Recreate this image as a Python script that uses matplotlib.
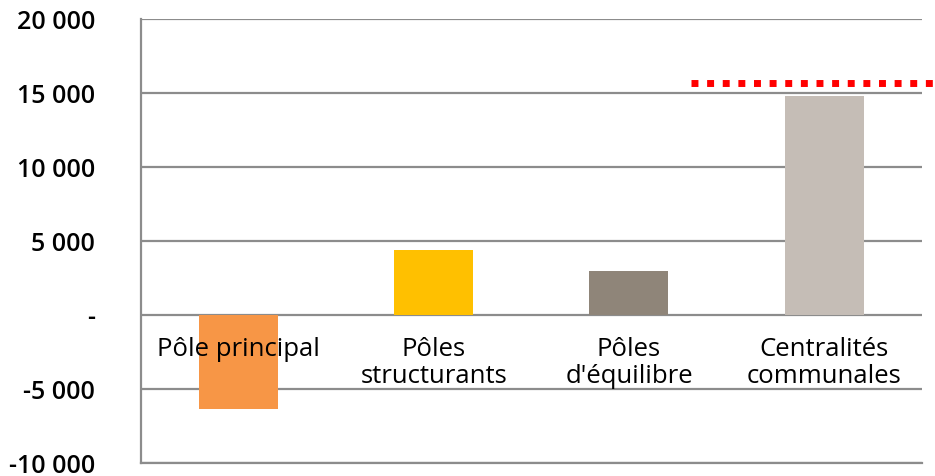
import matplotlib
matplotlib.use('Agg')
import matplotlib.pyplot as plt

plt.rcParams['font.family'] = ['Open Sans', 'DejaVu Sans']

# values
categories = ['Pôle principal', 'Pôles\nstructurants', "Pôles\nd'équilibre", 'Centralités\ncommunales']
values = [-6350, 4430, 2950, 14800]
colors = ['#F79646', '#FFC000', '#8F8579', '#C5BDB6']
target = 15700
target_start = 2.32

yticks = [-10000, -5000, 0, 5000, 10000, 15000, 20000]
ylabels = ['-10 000', '-5 000', '-', '5 000', '10 000', '15 000', '20 000']

fig = plt.figure(figsize=(9.35, 4.76), dpi=100)
ax = fig.add_axes([0.1508, 0.027, 0.835, 0.933])

xs = list(range(len(categories)))
ax.bar(xs, values, width=0.405, color=colors, zorder=3)

ax.set_xlim(-0.5, len(categories) - 0.5)
ax.set_ylim(-10000, 20000)
ax.set_yticks(yticks)
ax.set_yticklabels(ylabels, fontsize=18, fontweight='semibold')
ax.tick_params(axis='y', length=0, pad=33)
ax.set_xticks([])

ax.grid(axis='y', color='#8C8C8C', linewidth=1.6, zorder=1)
for s in ['top', 'right']:
    ax.spines[s].set_visible(False)
ax.spines['left'].set_color('#8C8C8C')
ax.spines['left'].set_linewidth(1.6)
ax.spines['bottom'].set_color('#8C8C8C')
ax.spines['bottom'].set_linewidth(1.6)

for x, cat in zip(xs, categories):
    ax.annotate(cat, xy=(x, 0), xytext=(0, -16), textcoords='offset points',
                ha='center', va='top', fontsize=18.5, fontweight='medium',
                linespacing=1.1, zorder=4)

# red dotted target line
ax.plot([target_start, 3.7], [target, target], color='#FF0000', linewidth=5,
        linestyle=(0, (1, 1.25)), dash_capstyle='butt', clip_on=False, zorder=5)

fig.savefig('out.png', dpi=100)
